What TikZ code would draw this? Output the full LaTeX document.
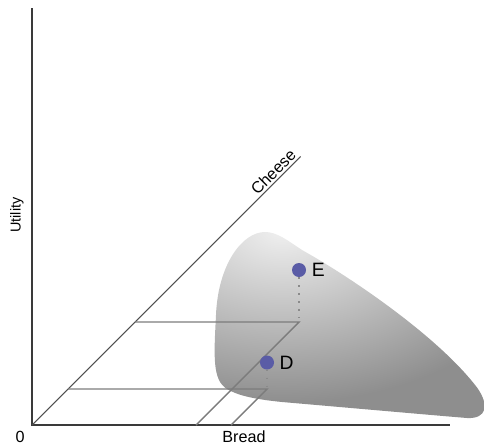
\documentclass[tikz,border=0pt]{standalone}
\usepackage{fontspec}
\setmainfont{Liberation Sans}
\usepackage{tikz}
\usetikzlibrary{positioning,calc}
\definecolor{achse}{HTML}{3A3A3A}
\definecolor{gitter}{HTML}{7C7C7C}
\definecolor{diag}{HTML}{4F4F4F}
\definecolor{blobin}{HTML}{F0F0F0}
\definecolor{blobout}{HTML}{8E8E8E}
\definecolor{punkt}{HTML}{5A5CA6}
\definecolor{punktl}{HTML}{8A8A8A}
\pgfdeclareradialshading{blobshade}{\pgfpoint{0cm}{0cm}}{%
  color(0bp)=(blobin); color(18bp)=(blobout); color(50bp)=(blobout)}
\tikzset{
  ax/.style={achse,line width=1.1pt},
  gridline/.style={gitter,line width=0.8pt},
  cheeseline/.style={diag,line width=0.6pt},
  dotline/.style={punktl,line width=1.3pt,dash pattern=on 0.9pt off 3.6pt},
  dot/.style={circle,fill=punkt,inner sep=0pt,minimum size=0.28cm},
  lbl/.style={font=\fontsize{9.2pt}{11pt}\selectfont,text=black},
  ptlbl/.style={font=\fontsize{11pt}{13pt}\selectfont,text=black,inner sep=0pt},
}

\begin{document}
\begin{tikzpicture}
  \useasboundingbox (-0.64,-0.44) rectangle (9.06,8.5);
  % consumption set
  \begin{scope}
    \clip (4.66,3.86) .. controls (4.2,3.86) and (3.72,3.2) .. (3.68,2.2)
      .. controls (3.64,1.4) and (3.6,0.9) .. (3.9,0.72)
      .. controls (4.1,0.6) and (4.4,0.52) .. (5.0,0.46)
      .. controls (6.5,0.33) and (8.2,0.18) .. (8.7,0.14)
      .. controls (9.1,0.12) and (9.15,0.4) .. (8.9,0.75)
      .. controls (8.1,1.8) and (6.3,3.0) .. (5.4,3.5)
      .. controls (5.1,3.7) and (4.9,3.86) .. (4.66,3.86) -- cycle;
    \shade[shading=blobshade] (5.0,3.9) ellipse (7.5 and 4.8);
  \end{scope}
  \coordinate (O) at (0,0);
  \coordinate (utop) at (0,8.34);
  \coordinate (bend) at (8.36,0);
  \coordinate (cend) at (5.37,5.37);
  \draw[ax] (utop) -- (O) -- (bend);
  \draw[cheeseline] (O) -- (cend) node[lbl,pos=0.92,sloped,above,inner sep=1pt] (cheese) {Cheese};
  % bundles
  \coordinate (c2) at (2.06,2.06);
  \coordinate (p2) at (5.34,2.06);
  \coordinate (b2) at (3.28,0);
  \coordinate (c1) at (0.72,0.72);
  \coordinate (p1) at (4.70,0.72);
  \coordinate (b1) at (3.98,0);
  \draw[gridline] (c2) -- (p2) -- (b2);
  \draw[gridline] (c1) -- (p1) -- (b1);
  \node[dot] (E) at (5.34,3.10) {};
  \node[dot] (D) at (4.70,1.25) {};
  \draw[dotline] (E) -- (p2);
  \draw[dotline] (D) -- (p1);
  \node[ptlbl,right=3pt of E] (Elab) {E};
  \node[ptlbl,right=2.8pt of D] (Dlab) {D};
  \node[lbl] (zero) at (-0.24,-0.24) {0};
  \node[lbl] (bread) at (4.24,-0.24) {Bread};
  \node[lbl,font=\fontsize{8.2pt}{10pt}\selectfont,rotate=90] (utility) at (-0.3,4.2) {Utility};
\end{tikzpicture}
\end{document}
